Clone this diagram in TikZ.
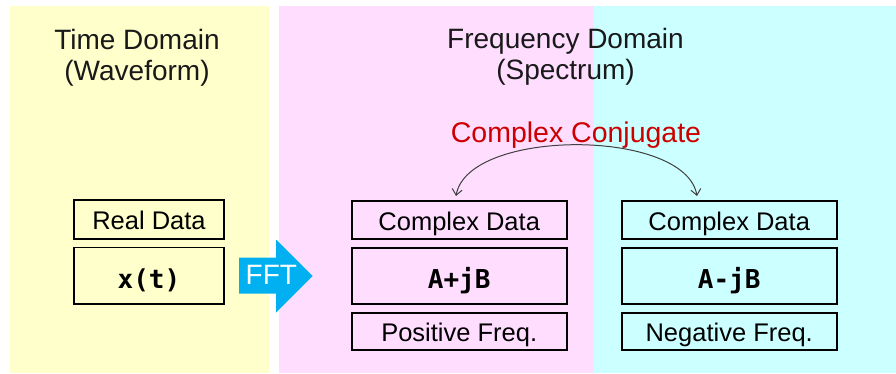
\documentclass[tikz,border=0pt]{standalone}
\usepackage{fontspec}
\setmainfont{Liberation Sans}
\newfontfamily\monob{DejaVu Sans Mono}
\usetikzlibrary{arrows.meta}
\definecolor{pyellow}{HTML}{FFFFCC}
\definecolor{ppink}{HTML}{FFDDFF}
\definecolor{pcyan}{HTML}{CCFFFF}
\definecolor{fftblue}{HTML}{00B0F0}
\definecolor{cjred}{HTML}{CC0000}
\definecolor{arcgray}{HTML}{404040}
\tikzset{
  title/.style={align=center, inner sep=0pt, anchor=north, font=\fontsize{28}{31}\selectfont, text=black!90},
  databox/.style={draw=black, line width=1.8pt, inner sep=0pt, minimum width=#1, text height=20pt, text depth=0pt, font=\fontsize{25.5}{30}\selectfont},
  valbox/.style={draw=black, line width=1.8pt, inner sep=0pt, minimum width=#1, minimum height=56.6pt, text height=25pt, text depth=0pt, font=\monob\bfseries\fontsize{26}{30}\selectfont},
  conj/.style={arcgray, line width=1pt, {Straight Barb[length=6pt,width=10pt]}-{Straight Barb[length=6pt,width=10pt]}}
}
\begin{document}
\begin{tikzpicture}[x=1pt,y=-1pt]
\useasboundingbox (0,0) rectangle (896,373);
% panels
\fill[pyellow] (10,6) rectangle (269,373);
\fill[ppink] (279,6) rectangle (594,373);
\fill[pcyan] (594,6) rectangle (896,373);
% titles
\node[title] (ttime) at (137,29) {Time Domain\\(Waveform)};
\node[title] (tfreq) at (565.5,28.5) {Frequency Domain\\(Spectrum)};
% left boxes
\node[databox=150pt, minimum height=38.5pt] (real) at (149,219.5) {Real Data};
\node[valbox=150pt] (xt) at (149,275.7) {x(t)};
% FFT arrow
\fill[fftblue] (239,257.7) -- (276,257.7) -- (276,239.5) -- (312.7,276) -- (276,312.5) -- (276,293.5) -- (239,293.5) -- cycle;
\node[inner sep=0pt, text=white, font=\fontsize{28}{30}\selectfont] (fft) at (271.3,275) {FFT};
% pink boxes
\node[databox=215pt, minimum height=38.6pt] (cdp) at (459.2,220) {Complex Data};
\node[valbox=215pt] (pval) at (459.2,276) {A+jB};
\node[databox=215pt, minimum height=37.3pt] (pos) at (459.2,331.3) {Positive Freq.};
% cyan boxes
\node[databox=215pt, minimum height=38.6pt] (cdn) at (729.2,220) {Complex Data};
\node[valbox=215pt] (nval) at (729.2,276) {A-jB};
\node[databox=215pt, minimum height=37.3pt] (neg) at (729.2,331.3) {Negative Freq.};
% complex conjugate
\node[inner sep=0pt, anchor=base, text=cjred, font=\fontsize{28.5}{35}\selectfont] (cj) at (576,142.5) {Complex Conjugate};
\coordinate (al) at (456,196);
\coordinate (ar) at (697,196);
\draw[conj] (al) .. controls (468,128) and (685,128) .. (ar);
\end{tikzpicture}
\end{document}
